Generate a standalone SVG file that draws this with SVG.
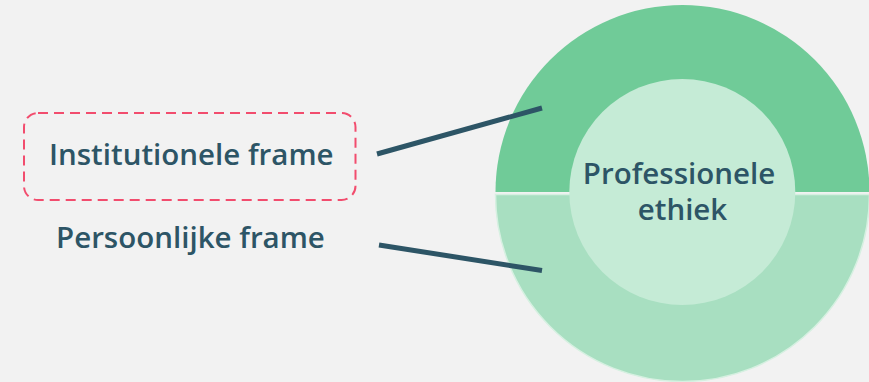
<svg xmlns="http://www.w3.org/2000/svg" width="869" height="382" viewBox="0 0 869 382">
  <style>
    .label { font-family: "Open Sans", "Liberation Sans", sans-serif; font-weight: 600; fill: #2d5566; font-size: 29.5px; }
    .link { stroke: #2d5566; stroke-width: 5; fill: none; }
  </style>
  <rect width="869" height="382" fill="#f2f2f2"/>

  <g id="rings">
    <!-- lower half: personal frame -->
    <path d="M 495.5 194.5 A 187 187 0 0 0 869.5 194.5 Z" fill="#a8dfc1" stroke="#d6f0e1" stroke-width="1.5"/>
    <!-- upper half: institutional frame -->
    <path d="M 495.5 192 A 187 187 0 0 1 869.5 192 Z" fill="#70cb98"/>
  </g>

  <g id="core">
    <circle cx="682.3" cy="192" r="113" fill="#c5ebd6"/>
    <text class="label" text-anchor="middle" x="679" y="183.5">Professionele</text>
    <text class="label" text-anchor="middle" x="682.5" y="219.5">ethiek</text>
  </g>

  <g id="connectors">
    <line class="link" x1="377" y1="154" x2="542" y2="108"/>
    <line class="link" x1="379" y1="245" x2="542" y2="270.5"/>
  </g>

  <g id="institutional">
    <rect x="24" y="113" width="331.5" height="87" rx="14" fill="none" stroke="#f24d6e" stroke-width="2" stroke-dasharray="10 6"/>
    <text class="label" x="49" y="165">Institutionele frame</text>
  </g>

  <g id="personal">
    <text class="label" x="56" y="248">Persoonlijke frame</text>
  </g>
</svg>
